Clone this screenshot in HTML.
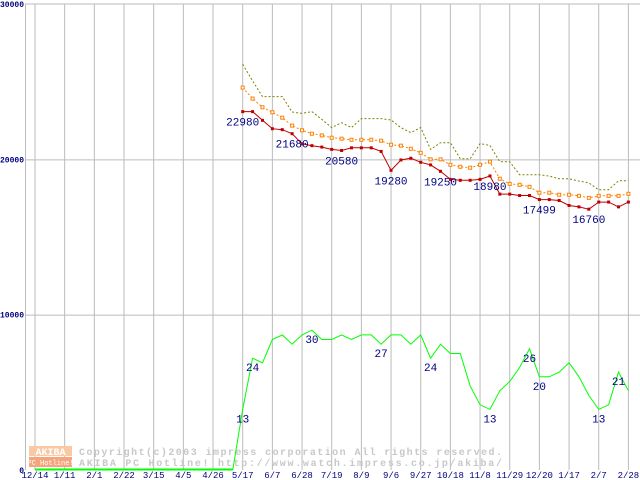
<!DOCTYPE html>
<html><head><meta charset="utf-8"><style>
html,body{margin:0;padding:0;background:#fff;width:640px;height:480px;overflow:hidden}
svg{display:block}
text{font-family:"Liberation Mono","DejaVu Sans Mono",monospace}
</style></head><body>
<svg id="chart" width="640" height="480" viewBox="0 0 640 480" xmlns="http://www.w3.org/2000/svg">
<g id="grid"></g>
<g id="watermark">
  <rect x="29" y="446" width="43" height="10" fill="#f9c9a6"/>
  <text x="50.5" y="455" font-size="10" fill="#fff" text-anchor="middle" font-weight="bold">AKIBA</text>
  <rect x="29" y="457" width="43" height="10" fill="#f4a57c"/>
  <text x="50.5" y="465" font-size="7" fill="#fff" text-anchor="middle">PC Hotline!</text>
  <text x="79" y="455" font-size="10" fill="#c8c8c8" font-weight="bold" textLength="423">Copyright(c)2003 impress corporation All rights reserved.</text>
  <text x="79" y="466" font-size="10" fill="#c8c8c8" font-weight="bold" textLength="423">AKIBA PC Hotline!  http://www.watch.impress.co.jp/akiba/</text>
</g>
<g id="series"></g>
</svg>
<script>
const xLabels=["12/14","1/11","2/1","2/22","3/15","4/5","4/26","5/17","6/7","6/28","7/19","8/9","9/6","9/27","10/18","11/8","11/29","12/20","1/17","2/7","2/28"];
const yTicks=[0,10000,20000,30000];
const maxPrice=[26120,25050,24040,24040,24040,23050,22960,23070,22570,22040,22360,22040,22620,22620,22620,22530,22040,21720,22040,20640,21070,21070,20040,20040,21010,20900,19850,19850,19010,19010,19010,18920,18750,18750,18600,18490,18040,18040,18620,18620];
const avgPrice=[24620,23910,23350,23030,22680,22170,21870,21650,21540,21390,21330,21260,21260,21260,21200,20940,20880,20680,20420,20000,20000,19650,19520,19460,19650,19850,18750,18420,18360,18230,17850,17850,17720,17720,17650,17520,17650,17650,17650,17780];
const minPrice=[23070,23070,22510,21970,21910,21650,21000,20880,20790,20640,20570,20740,20740,20740,20510,19290,19960,20070,19810,19640,19230,18710,18650,18650,18710,18930,17760,17760,17670,17670,17410,17410,17350,17030,16940,16790,17250,17250,16940,17250];
const minLabels=[[0,"22980"],[5,"21680"],[10,"20580"],[15,"19280"],[20,"19250"],[25,"18980"],[30,"17499"],[35,"16760"]];
const shopCount=[13,24,23,28,29,27,29,30,28,28,29,28,29,29,27,29,29,27,29,24,27,25,25,18,14,13,17,19,22,26,20,20,21,23,20,16,13,14,21,17];
const countLabels=[[0,"13"],[1,"24"],[7,"30"],[14,"27"],[19,"24"],[25,"13"],[29,"26"],[30,"20"],[36,"13"],[38,"21"]];
const countScale=300;

const NS="http://www.w3.org/2000/svg";
const X0=35,GS=29.67,Y0=470,YT=4,WEEK0=7*GS+X0;
function gx(i){return X0+i*GS;}
function wx(i){return WEEK0+i*GS/3;}
function py(v){return Y0-v*(Y0-YT)/30000;}
function mk(tag,attrs,parent){const e=document.createElementNS(NS,tag);for(const k in attrs)e.setAttribute(k,attrs[k]);parent.appendChild(e);return e;}
const grid=document.getElementById('grid'),ser=document.getElementById('series');

let e=mk('line',{x1:25,y1:YT,x2:640,y2:YT,stroke:'#bbb'},grid);


e=mk('line',{x1:25.5,y1:YT,x2:25.5,y2:Y0,stroke:'#bbb'},grid);


yTicks.forEach(v=>{
  if(v>0&&v<30000){const l=mk('line',{x1:25,y1:py(v)+0.5,x2:640,y2:py(v)+0.5,stroke:'#bbb'},grid);
  
  }
  const s=String(v);
  const attrs={x:24,y:py(v)+3,'font-size':8,'font-weight':'bold',fill:'#000080','text-anchor':'end'};
  if(s.length>1){attrs.textLength=s.length*4.8;attrs.lengthAdjust='spacingAndGlyphs';}
  const t=mk('text',attrs,grid);
  t.textContent=s;
  
  
});
xLabels.forEach((s,i)=>{
  const l=mk('line',{x1:gx(i),y1:YT,x2:gx(i),y2:Y0,stroke:'#bbb'},grid);
  
  
  const t=mk('text',{x:gx(i),y:478,'font-size':9,fill:'#000080','text-anchor':'middle'},grid);
  t.textContent=s;
  
  
});

function pts(arr,f){return arr.map((v,i)=>wx(i).toFixed(1)+','+f(v).toFixed(1)).join(' ');}
let gpts=X0+','+(Y0-0.5)+' '+wx(-1)+','+(Y0-0.5)+' '+pts(shopCount,c=>py(c*countScale));
e=mk('line',{x1:X0,y1:Y0-0.5,x2:wx(-1),y2:Y0-0.5,stroke:'#00ff00','stroke-width':2},ser);


e=mk('polyline',{points:gpts,fill:'none',stroke:'#00ff00','stroke-width':1},ser);


e=mk('polyline',{points:pts(maxPrice,py),fill:'none',stroke:'#808000','stroke-width':1,'stroke-dasharray':'2,2'},ser);


e=mk('polyline',{points:pts(avgPrice,py),fill:'none',stroke:'#ff8000','stroke-width':1,'stroke-dasharray':'2,2'},ser);


avgPrice.forEach((v,i)=>{const r=mk('rect',{x:wx(i)-1.5,y:py(v)-1.5,width:3,height:3,fill:'#fff',stroke:'#ff8000','stroke-width':1},ser);
  
  });
e=mk('polyline',{points:pts(minPrice,py),fill:'none',stroke:'#c00000','stroke-width':1},ser);


minPrice.forEach((v,i)=>{const r=mk('rect',{x:wx(i)-1.5,y:py(v)-1.5,width:3,height:3,fill:'#c00000'},ser);
  
  });
minLabels.forEach(([i,s])=>{const t=mk('text',{x:wx(i),y:py(minPrice[i])+14,'font-size':11,fill:'#000080','text-anchor':'middle'},ser);
  t.textContent=s;
  
  });
countLabels.forEach(([i,s])=>{const t=mk('text',{x:wx(i),y:py(shopCount[i]*countScale)+13,'font-size':11,fill:'#000080','text-anchor':'middle'},ser);
  t.textContent=s;
  
  });
</script>
</body></html>
